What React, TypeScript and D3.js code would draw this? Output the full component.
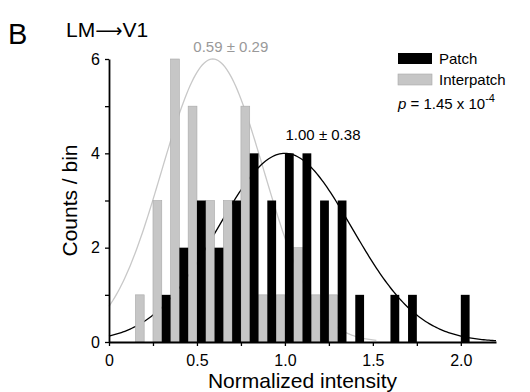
import * as d3 from "d3";
import { useEffect, useRef } from "react";

// bin centres (normalized intensity), bin width 0.1
const binCenters = [0.2, 0.3, 0.4, 0.5, 0.6, 0.7, 0.8, 0.9, 1.0, 1.1, 1.2, 1.3, 1.4, 1.5, 1.6, 1.7, 1.8, 1.9, 2.0];
const patchCounts = [0, 1, 2, 3, 2, 3, 4, 3, 4, 4, 3, 3, 1, 0, 1, 1, 0, 0, 1];
const interpatchCounts = [1, 3, 6, 5, 3, 3, 5, 1, 1, 2, 1, 1, 0, 0, 0, 0, 0, 0, 0];

// gaussian fits: mean, sd, amplitude, x-range drawn
const patchFit = { mean: 1.0, sd: 0.38, amp: 4, from: 0, to: 2.2 };
const interpatchFit = { mean: 0.59, sd: 0.29, amp: 6, from: 0, to: 1.52 };

const xTicks = [0, 0.5, 1.0, 1.5, 2.0];
const xTickLabels = ["0", "0.5", "1.0", "1.5", "2.0"];
const yTicks = [0, 2, 4, 6];

const FONT = "'Liberation Sans', Arial, sans-serif";
const GRAY = "#c6c6c6";

export default function App() {
  const ref = useRef<SVGSVGElement | null>(null);

  useEffect(() => {
    const svg = d3.select(ref.current as SVGSVGElement);
    svg.selectAll("*").remove();

    const width = 530;
    const height = 392;
    const margin = { top: 59, right: 34, bottom: 50, left: 109 };

    const x = d3.scaleLinear().domain([0, 2.2]).range([margin.left, width - margin.right]);
    const y = d3.scaleLinear().domain([0, 6]).range([height - margin.bottom, margin.top]);

    // fitted curves (drawn under the bars)
    const gauss = (f: typeof patchFit) => (v: number) =>
      f.amp * Math.exp(-((v - f.mean) ** 2) / (2 * f.sd * f.sd));

    const drawFit = (f: typeof patchFit, color: string) => {
      const g = gauss(f);
      const pts = d3.range(f.from, f.to + 1e-9, 0.01);
      svg
        .append("path")
        .datum(pts)
        .attr(
          "d",
          d3
            .line<number>()
            .x((d) => x(d))
            .y((d) => y(g(d)))
        )
        .attr("fill", "none")
        .attr("stroke", color)
        .attr("stroke-width", 1.3);
    };
    drawFit(interpatchFit, "#c8c8c8");
    drawFit(patchFit, "#000");

    // bars: interpatch on the left half of each bin, patch on the right half
    const bars = svg.append("g");
    bars
      .selectAll("rect.ip")
      .data(binCenters.map((c, i) => ({ c, n: interpatchCounts[i] })).filter((d) => d.n > 0))
      .enter()
      .append("rect")
      .attr("class", "ip")
      .attr("x", (d) => x(d.c - 0.05))
      .attr("y", (d) => y(d.n))
      .attr("width", (d) => x(d.c) - x(d.c - 0.05))
      .attr("height", (d) => y(0) - y(d.n))
      .attr("fill", GRAY)
      .attr("stroke", "#a8a8a8")
      .attr("stroke-width", 0.6);
    bars
      .selectAll("rect.p")
      .data(binCenters.map((c, i) => ({ c, n: patchCounts[i] })).filter((d) => d.n > 0))
      .enter()
      .append("rect")
      .attr("class", "p")
      .attr("x", (d) => x(d.c))
      .attr("y", (d) => y(d.n))
      .attr("width", (d) => x(d.c + 0.05) - x(d.c))
      .attr("height", (d) => y(0) - y(d.n))
      .attr("fill", "#000");

    // x axis
    const xAxis = svg
      .append("g")
      .attr("transform", `translate(0,${y(0)})`)
      .call(
        d3
          .axisBottom(x)
          .tickValues(d3.range(0, 2.01, 0.25))
          .tickSize(4)
          .tickSizeOuter(0)
          .tickFormat((d) => {
            const i = xTicks.findIndex((t) => Math.abs(t - Number(d)) < 1e-6);
            return i >= 0 ? xTickLabels[i] : "";
          })
      );
    xAxis.select(".domain").attr("stroke-width", 1.8);
    xAxis.selectAll("line").attr("stroke-width", 1.3);
    xAxis
      .selectAll("text")
      .attr("font-family", FONT)
      .attr("font-size", "16px")
      .attr("fill", "#000")
      .attr("dy", "1.05em");

    // y axis
    const yAxis = svg
      .append("g")
      .attr("transform", `translate(${x(0)},0)`)
      .call(
        d3
          .axisLeft(y)
          .tickValues(d3.range(0, 6.01, 1))
          .tickSize(4)
          .tickSizeOuter(0)
          .tickFormat((d) => (yTicks.includes(Number(d)) ? String(d) : ""))
      );
    yAxis.select(".domain").attr("stroke-width", 1.8);
    yAxis.selectAll("line").attr("stroke-width", 1.3);
    yAxis
      .selectAll("text")
      .attr("font-family", FONT)
      .attr("font-size", "16px")
      .attr("fill", "#000")
      .attr("x", -9);

    // axis titles
    svg
      .append("text")
      .attr("x", (x(0) + x(2.2)) / 2)
      .attr("y", 388)
      .attr("text-anchor", "middle")
      .attr("font-family", FONT)
      .attr("font-size", "21px")
      .text("Normalized intensity");
    svg
      .append("text")
      .attr("transform", `translate(77,${(y(0) + y(6)) / 2}) rotate(-90)`)
      .attr("text-anchor", "middle")
      .attr("font-family", FONT)
      .attr("font-size", "21px")
      .text("Counts / bin");

    // panel letter and title
    svg.append("text").attr("x", 8).attr("y", 44).attr("font-family", FONT).attr("font-size", "29px").text("B");
    const title = svg.append("text").attr("x", 66).attr("y", 37).attr("font-family", FONT).attr("font-size", "21px");
    title.append("tspan").text("LM");
    title.append("tspan").attr("font-family", "'DejaVu Sans', sans-serif").attr("font-size", "19px").text("⟶");
    title.append("tspan").text("V1");

    // fit annotations
    svg
      .append("text")
      .attr("x", x(interpatchFit.mean) + 18)
      .attr("y", 52)
      .attr("text-anchor", "middle")
      .attr("font-family", FONT)
      .attr("font-size", "15px")
      .attr("fill", "#999")
      .text("0.59 ± 0.29");
    svg
      .append("text")
      .attr("x", 323)
      .attr("y", 140)
      .attr("text-anchor", "middle")
      .attr("font-family", FONT)
      .attr("font-size", "15px")
      .attr("fill", "#000")
      .text("1.00 ± 0.38");

    // legend
    const lg = svg.append("g").attr("transform", "translate(398,53)");
    lg.append("rect").attr("x", 0).attr("y", 0).attr("width", 34).attr("height", 11).attr("fill", "#000");
    lg.append("text").attr("x", 41).attr("y", 11).attr("font-family", FONT).attr("font-size", "15px").text("Patch");
    lg.append("rect")
      .attr("x", 0)
      .attr("y", 21)
      .attr("width", 34)
      .attr("height", 11)
      .attr("fill", GRAY)
      .attr("stroke", "#a8a8a8")
      .attr("stroke-width", 0.6);
    lg.append("text").attr("x", 41).attr("y", 32).attr("font-family", FONT).attr("font-size", "15px").text("Interpatch");
    const pt = lg
      .append("text")
      .attr("x", 0)
      .attr("y", 56)
      .attr("font-family", FONT)
      .attr("font-size", "15px");
    pt.append("tspan").attr("font-style", "italic").text("p");
    pt.append("tspan").text(" = 1.45 x 10");
    pt.append("tspan").attr("font-size", "11px").attr("dy", -7).text("-4");
  }, []);

  return (
    <svg
      ref={ref}
      width={530}
      height={392}
      style={{ position: "absolute", left: 0, top: 0, display: "block", background: "#fff" }}
    />
  );
}
